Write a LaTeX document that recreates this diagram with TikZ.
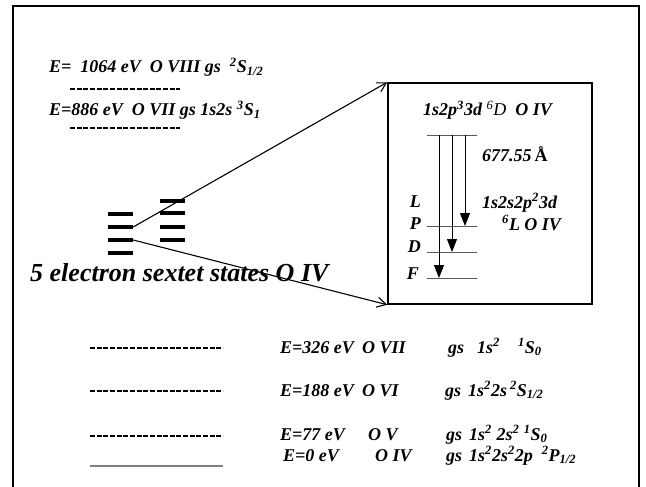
\documentclass[tikz,border=0pt]{standalone}
\usepackage{fontspec}
\setmainfont{Liberation Serif}
\usepackage{tikz}
\usetikzlibrary{arrows.meta, positioning}
\newcommand{\sups}[1]{\textsuperscript{#1}}
\newcommand{\subs}[1]{\textsubscript{#1}}

\begin{document}
\begin{tikzpicture}[
    x=1pt, y=-1pt,
    every node/.style={font=\fontsize{18}{20}\selectfont\bfseries\itshape, inner sep=0pt},
    txt/.style={anchor=base west},
    bigtxt/.style={anchor=base west, font=\fontsize{26}{28}\selectfont\bfseries\itshape},
    bar/.style={fill=black, minimum width=25pt, minimum height=3.5pt},
    level/.style={draw, line width=1pt, minimum width=50pt, minimum height=0pt},
    gapline/.style={line width=2pt, dash pattern=on 5pt off 1.65pt},
    fan/.style={-{Straight Barb[length=9pt, width=10pt]}, line width=1.1pt},
    drop/.style={-{Triangle[length=13pt, width=10pt]}, line width=1pt}
]
\useasboundingbox (0,0) rectangle (646,487);

% Frame (open at the bottom)
\draw[line width=1.5pt] (13,487) |- (639,6) -- (639,487);

% Upper ions
\node[txt] (e1064) at (49,73) {E=\ \ 1064 eV\ \ O VIII gs\ \ \sups{2}S\subs{1/2}};
\node[txt] (e886)  at (49,116) {E=886 eV\ \ O VII gs 1s2s \sups{3}S\subs{1}};
\draw[gapline] (70,89) -- (180,89);
\draw[gapline] (70,128) -- (180,128);

% Sextet states
\foreach \y [count=\i] in {214,227,240,253}
    \node[bar] (barL\i) at (120.5,\y) {};
\foreach \y [count=\i] in {201,213,227,240}
    \node[bar] (barR\i) at (172,\y) {};
\node[bigtxt] (sextet) at (30,281) {5 electron sextet states O IV};

% Zoomed box
\node[draw, line width=1.5pt, minimum width=204pt, minimum height=221pt] (zoom) at (490,193.5) {};
\node[txt] (upper) at (423,116) {1s2p\sups{3}3d {\mdseries\sups{6}D}\ \ O IV};
\node[level] (lvltop) at (452,135) {};
\node[level] (lvlP) at (452,226) {};
\node[level] (lvlD) at (452,252) {};
\node[level] (lvlF) at (452,278) {};
\node[anchor=base east] (labL) at (421,207) {L};
\node[anchor=base east] (labP) at (421,229) {P};
\node[anchor=base east] (labD) at (421,252) {D};
\node[anchor=base east] (labF) at (419,279) {F};
\node[txt] (wave) at (482,161) {677.55\,{\upshape Å}};
\node[txt] (lower) at (482,208) {1s2s2p\sups{2}3d};
\node[txt] (lterm) at (502,230) {\sups{6}L O IV};
\coordinate (xF) at (439,0);
\coordinate (xD) at (452,0);
\coordinate (xP) at (465,0);

% Lower ions
\node[txt] (e326) at (280,353) {E=326 eV};
\node[txt] (o7)   at (362,353) {O VII};
\node[txt] (gs7)  at (448,353) {gs};
\node[txt] (c7)   at (477,353) {1s\sups{2}\quad\sups{1}S\subs{0}};
\node[txt] (e188) at (280,396) {E=188 eV};
\node[txt] (o6)   at (362,396) {O VI};
\node[txt] (gs6)  at (445,396) {gs};
\node[txt] (c6)   at (468,396) {1s\sups{2}2s\,\sups{2}S\subs{1/2}};
\node[txt] (e77)  at (280,440) {E=77 eV};
\node[txt] (o5)   at (368,440) {O V};
\node[txt] (gs5)  at (446,440) {gs};
\node[txt] (c5)   at (469,440) {1s\sups{2} 2s\sups{2} \sups{1}S\subs{0}};
\node[txt] (e0)   at (283,461) {E=0 eV};
\node[txt] (o4)   at (375,461) {O IV};
\node[txt] (gs4)  at (446,461) {gs};
\node[txt] (c4)   at (469,461) {1s\sups{2}2s\sups{2}2p\ \ \sups{2}P\subs{1/2}};
\draw[gapline] (90,348) -- (223,348);
\draw[gapline] (90,391) -- (223,391);
\draw[gapline] (90,436) -- (223,436);
\draw[gray, line width=1.5pt] (90,466) -- (223,466);

% Edges
\draw[fan] (barL2.east) -- (zoom.north west);
\draw[fan] (barL3.east) -- (zoom.south west);
\draw[drop] (lvltop -| xF) -- (lvlF -| xF);
\draw[drop] (lvltop -| xD) -- (lvlD -| xD);
\draw[drop] (lvltop -| xP) -- (lvlP -| xP);

\end{tikzpicture}
\end{document}
